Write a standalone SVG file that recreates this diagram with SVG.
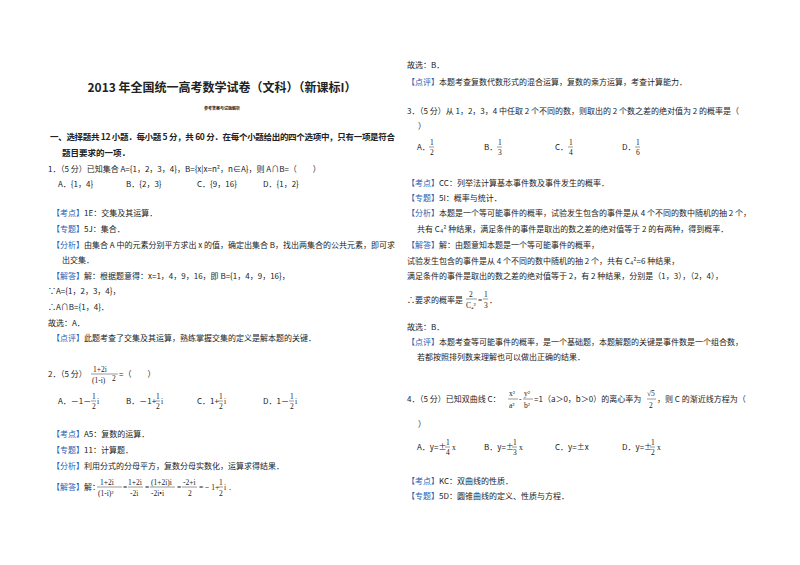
<svg xmlns="http://www.w3.org/2000/svg" width="800" height="565" viewBox="0 0 800 565">
<style>
text{font-family:"Noto Sans CJK SC","Liberation Sans",sans-serif;font-size:8px;fill:#222}
.b{fill:#2a5db0}
.t{font-weight:bold;font-size:12px}
.h{font-weight:bold;font-size:8.5px}
.m{font-family:"Liberation Serif",serif;font-size:7.5px}
line{stroke:#333;stroke-width:0.5}
</style>
<rect width="800" height="565" fill="#fff"/>
<g id="left">
<text x="222" y="92" class="t" text-anchor="middle">2013 年全国统一高考数学试卷（文科）（新课标I）</text>
<text x="222" y="110" style="font-size:4px;font-weight:bold" text-anchor="middle">参考答案与试题解析</text>
<text x="50" y="140" class="h" textLength="345">一、选择题共 12 小题．每小题 5 分，共 60 分．在每个小题给出的四个选项中，只有一项是符合</text>
<text x="62" y="156" class="h">题目要求的一项．</text>
<text x="48" y="172">1．（5 分）已知集合 A={1，2，3，4}，B={x|x=n²，n∈A}，则 A∩B=（　　）</text>
<text x="58" y="187">A．{1，4}</text><text x="126" y="187">B．{2，3}</text><text x="197" y="187">C．{9，16}</text><text x="263" y="187">D．{1，2}</text>
<text x="52" y="216"><tspan class="b">【考点】</tspan>1E：交集及其运算．</text>
<text x="52" y="232"><tspan class="b">【专题】</tspan>5J：集合．</text>
<text x="52" y="248"><tspan class="b">【分析】</tspan>由集合 A 中的元素分别平方求出 x 的值，确定出集合 B，找出两集合的公共元素，即可求</text>
<text x="62" y="263">出交集．</text>
<text x="52" y="279"><tspan class="b">【解答】</tspan>解：根据题意得：x=1，4，9，16，即 B={1，4，9，16}，</text>
<text x="48" y="294">∵A={1，2，3，4}，</text>
<text x="48" y="310">∴A∩B={1，4}．</text>
<text x="48" y="326">故选：A．</text>
<text x="52" y="341"><tspan class="b">【点评】</tspan>此题考查了交集及其运算，熟练掌握交集的定义是解本题的关键．</text>
<text x="48" y="377">2．（5 分）</text>
<text x="93" y="372" class="m">1+2i</text><line x1="91" y1="374" x2="118" y2="374"/><text x="92" y="383" class="m">(1-i)</text><text x="112" y="381" class="m">2</text><text x="119" y="377">=（　　）</text>
<text x="58" y="404">A．－1－</text><text x="92" y="399" class="m">1</text><line x1="91" y1="401" x2="96" y2="401"/><text x="92" y="409" class="m">2</text><text x="97" y="404" class="m">i</text>
<text x="126" y="404">B．－1+</text><text x="156" y="399" class="m">1</text><line x1="155" y1="401" x2="160" y2="401"/><text x="156" y="409" class="m">2</text><text x="161" y="404" class="m">i</text>
<text x="197" y="404">C．1+</text><text x="219" y="399" class="m">1</text><line x1="218" y1="401" x2="223" y2="401"/><text x="219" y="409" class="m">2</text><text x="224" y="404" class="m">i</text>
<text x="263" y="404">D．1－</text><text x="290" y="399" class="m">1</text><line x1="289" y1="401" x2="294" y2="401"/><text x="290" y="409" class="m">2</text><text x="295" y="404" class="m">i</text>
<text x="52" y="437"><tspan class="b">【考点】</tspan>A5：复数的运算．</text>
<text x="52" y="453"><tspan class="b">【专题】</tspan>11：计算题．</text>
<text x="52" y="469"><tspan class="b">【分析】</tspan>利用分式的分母平方，复数分母实数化，运算求得结果．</text>
<text x="52" y="490"><tspan class="b">【解答】</tspan>解：</text>
<text x="100" y="485" class="m">1+2i</text><line x1="97" y1="487" x2="122" y2="487"/><text x="98" y="496" class="m">(1-i)²</text><text x="123" y="490" class="m">=</text>
<text x="128" y="485" class="m">1+2i</text><line x1="128" y1="487" x2="143" y2="487"/><text x="130" y="496" class="m">-2i</text><text x="145" y="490" class="m">=</text>
<text x="151" y="485" class="m">(1+2i)i</text><line x1="150" y1="487" x2="175" y2="487"/><text x="151" y="496" class="m">-2i•i</text><text x="177" y="490" class="m">=</text>
<text x="183" y="485" class="m">-2+i</text><line x1="182" y1="487" x2="197" y2="487"/><text x="188" y="496" class="m">2</text><text x="199" y="490" class="m">=－1+</text>
<text x="219" y="485" class="m">1</text><line x1="218" y1="487" x2="223" y2="487"/><text x="219" y="496" class="m">2</text><text x="224" y="490" class="m">i．</text>
</g>
<g id="right">
<text x="407" y="68">故选：B．</text>
<text x="407" y="85"><tspan class="b">【点评】</tspan>本题考查复数代数形式的混合运算，复数的乘方运算，考查计算能力．</text>
<text x="407" y="114">3．（5 分）从 1，2，3，4 中任取 2 个不同的数，则取出的 2 个数之差的绝对值为 2 的概率是（</text>
<text x="418" y="129">）</text>
<text x="417" y="150">A．</text><text x="430" y="145" class="m">1</text><line x1="429" y1="147" x2="434" y2="147"/><text x="430" y="155" class="m">2</text>
<text x="484" y="150">B．</text><text x="498" y="145" class="m">1</text><line x1="497" y1="147" x2="502" y2="147"/><text x="498" y="155" class="m">3</text>
<text x="555" y="150">C．</text><text x="569" y="145" class="m">1</text><line x1="568" y1="147" x2="573" y2="147"/><text x="569" y="155" class="m">4</text>
<text x="622" y="150">D．</text><text x="636" y="145" class="m">1</text><line x1="635" y1="147" x2="640" y2="147"/><text x="636" y="155" class="m">6</text>
<text x="407" y="186"><tspan class="b">【考点】</tspan>CC：列举法计算基本事件数及事件发生的概率．</text>
<text x="407" y="201"><tspan class="b">【专题】</tspan>5I：概率与统计．</text>
<text x="407" y="216"><tspan class="b">【分析】</tspan>本题是一个等可能事件的概率，试验发生包含的事件是从 4 个不同的数中随机的抽 2 个，</text>
<text x="417" y="232">共有 C₄² 种结果，满足条件的事件是取出的数之差的绝对值等于 2 的有两种，得到概率．</text>
<text x="407" y="248"><tspan class="b">【解答】</tspan>解：由题意知本题是一个等可能事件的概率，</text>
<text x="407" y="264">试验发生包含的事件是从 4 个不同的数中随机的抽 2 个，共有 C₄²=6 种结果，</text>
<text x="407" y="279">满足条件的事件是取出的数之差的绝对值等于 2，有 2 种结果，分别是（1，3），（2，4），</text>
<text x="407" y="303">∴要求的概率是</text>
<text x="469" y="297" class="m">2</text><line x1="466" y1="299" x2="477" y2="299"/><text x="466" y="308" class="m">C₄²</text><text x="478" y="303" class="m">=</text>
<text x="484" y="297" class="m">1</text><line x1="483" y1="299" x2="488" y2="299"/><text x="484" y="308" class="m">3</text><text x="489" y="303">．</text>
<text x="407" y="330">故选：B．</text>
<text x="407" y="345"><tspan class="b">【点评】</tspan>本题考查等可能事件的概率，是一个基础题，本题解题的关键是事件数是一个组合数，</text>
<text x="417" y="360">若都按照排列数来理解也可以做出正确的结果．</text>
<text x="407" y="402">4．（5 分）已知双曲线 C：</text>
<text x="509" y="396" class="m">x²</text><line x1="508" y1="399" x2="518" y2="399"/><text x="509" y="408" class="m">a²</text><text x="519" y="402" class="m">-</text>
<text x="524" y="396" class="m">y²</text><line x1="523" y1="399" x2="533" y2="399"/><text x="524" y="408" class="m">b²</text>
<text x="534" y="402">=1（a＞0，b＞0）的离心率为</text>
<text x="647" y="396" class="m">√5</text><line x1="647" y1="399" x2="656" y2="399"/><text x="649" y="408" class="m">2</text>
<text x="657" y="402">，则 C 的渐近线方程为（</text>
<text x="418" y="427">）</text>
<text x="417" y="450">A．y=±</text><text x="446" y="445" class="m">1</text><line x1="445" y1="447" x2="450" y2="447"/><text x="446" y="455" class="m">4</text><text x="452" y="450" class="m">x</text>
<text x="484" y="450">B．y=±</text><text x="513" y="445" class="m">1</text><line x1="512" y1="447" x2="517" y2="447"/><text x="513" y="455" class="m">3</text><text x="519" y="450" class="m">x</text>
<text x="555" y="450">C．y=±x</text>
<text x="622" y="450">D．y=±</text><text x="651" y="445" class="m">1</text><line x1="650" y1="447" x2="655" y2="447"/><text x="651" y="455" class="m">2</text><text x="657" y="450" class="m">x</text>
<text x="407" y="484"><tspan class="b">【考点】</tspan>KC：双曲线的性质．</text>
<text x="407" y="499"><tspan class="b">【专题】</tspan>5D：圆锥曲线的定义、性质与方程．</text>
</g>
</svg>
